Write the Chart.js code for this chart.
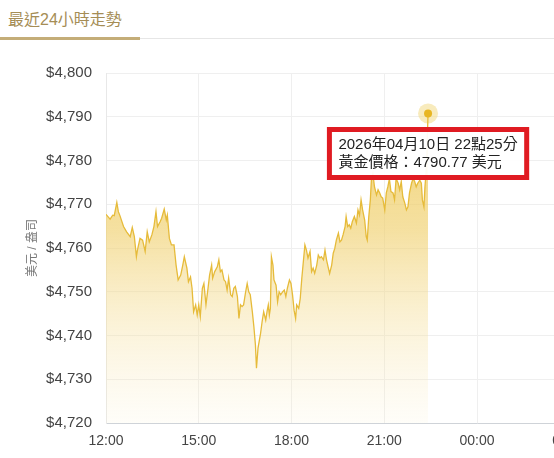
<!DOCTYPE html>
<html>
<head>
<meta charset="utf-8">
<script src="https://cdn.jsdelivr.net/npm/chart.js@4.4.1/dist/chart.umd.min.js"></script>
<style>
    body { margin: 0; background: #fff; overflow: hidden; font-family: "Liberation Sans", "Noto Sans CJK TC", sans-serif; }
    .tab { position: absolute; left: 0; top: 0; width: 554px; height: 38px; border-bottom: 1px solid #e6e6e6; }
    .tab span { position: absolute; left: 8px; top: 6px; font-size: 16px; color: #a58d55; }
    .tab i { position: absolute; left: 0; bottom: -2px; width: 140px; height: 3px; background: #c4ad78; }
    #wrap { position: absolute; left: 0; top: 40px; }
</style>
</head>
<body>
<div class="tab"><span>最近24小時走勢</span><i></i></div>
<div id="wrap"><canvas id="goldChart" width="880" height="418"></canvas></div>

<script>
    // 2026-04-10, 12:00 起的金價 (美元/盎司)
    const dateLabel = '2026年04月10日';
    const times = [
        '12:00','12:08','12:13','12:16','12:21','12:24','12:27','12:34','12:40','12:47',
        '12:51','12:55','12:59','13:01','13:06','13:11','13:16','13:20','13:24','13:29',
        '13:33','13:37','13:40','13:45','13:48','13:53','13:57','13:59','14:03','14:07',
        '14:12','14:16','14:20','14:25','14:29','14:32','14:37','14:40','14:44','14:47',
        '14:50','14:54','14:57','15:00','15:03','15:07','15:10','15:14','15:18','15:21',
        '15:25','15:27','15:31','15:36','15:39','15:42','15:45','15:49','15:52','15:55',
        '15:58','16:02','16:05','16:08','16:11','16:15','16:18','16:21','16:24','16:27',
        '16:31','16:34','16:37','16:40','16:44','16:47','16:50','16:52','16:55','17:00',
        '17:03','17:06','17:10','17:13','17:15','17:17','17:19','17:21','17:24','17:26',
        '17:30','17:33','17:36','17:39','17:43','17:46','17:49','17:52','17:56','17:59',
        '18:02','18:05','18:08','18:10','18:14','18:17','18:20','18:23','18:26','18:29',
        '18:32','18:36','18:39','18:42','18:45','18:49','18:52','18:55','18:58','19:02',
        '19:05','19:08','19:11','19:14','19:18','19:21','19:24','19:27','19:31','19:34',
        '19:37','19:40','19:44','19:46','19:49','19:52','19:55','19:58','20:02','20:06',
        '20:09','20:12','20:15','20:18','20:22','20:25','20:27','20:30','20:33','20:35',
        '20:38','20:41','20:45','20:48','20:51','20:54','20:57','21:01','21:04','21:07',
        '21:10','21:13','21:17','21:20','21:23','21:27','21:30','21:33','21:36','21:40',
        '21:43','21:46','21:49','21:53','21:56','21:59','22:02','22:05','22:09','22:12',
        '22:14','22:17','22:19','22:22','22:25'
    ];
    const prices = [
        4767.7, 4766.6, 4767.5, 4767.4, 4770.4, 4768.3, 4767.4, 4764.9, 4763.7, 4762.6,
        4764.7, 4762.6, 4758.0, 4759.5, 4762.2, 4761.8, 4759.2, 4763.7, 4761.4, 4763.0,
        4764.9, 4768.3, 4764.9, 4766.0, 4766.8, 4768.9, 4766.4, 4767.5, 4762.2, 4760.7,
        4760.7, 4756.1, 4752.7, 4753.8, 4756.1, 4758.0, 4755.4, 4752.3, 4753.4, 4750.8,
        4745.4, 4747.0, 4744.7, 4747.0, 4744.3, 4750.8, 4751.9, 4747.0, 4750.8, 4753.8,
        4756.1, 4753.1, 4754.6, 4755.7, 4757.3, 4754.6, 4755.0, 4752.7, 4752.3, 4750.4,
        4753.1, 4749.3, 4748.9, 4750.8, 4751.2, 4748.9, 4743.9, 4747.0, 4746.6, 4747.0,
        4750.0, 4751.9, 4750.0, 4749.3, 4745.4, 4742.0, 4737.8, 4732.5, 4737.1, 4740.5,
        4743.2, 4745.4, 4743.5, 4745.8, 4747.0, 4744.7, 4746.2, 4758.0, 4756.1, 4752.7,
        4751.5, 4747.7, 4750.0, 4749.3, 4750.0, 4750.4, 4748.9, 4750.8, 4752.7, 4751.9,
        4749.3, 4745.8, 4743.9, 4747.0, 4746.2, 4748.5, 4753.1, 4756.9, 4760.7, 4759.5,
        4757.7, 4759.2, 4754.6, 4755.4, 4754.2, 4756.1, 4758.4, 4757.7, 4758.0, 4757.3,
        4759.5, 4757.3, 4755.7, 4754.2, 4756.1, 4758.8, 4759.9, 4761.8, 4763.4, 4761.4,
        4761.8, 4763.0, 4764.9, 4767.2, 4764.9, 4765.3, 4764.5, 4766.0, 4767.2, 4765.7,
        4768.7, 4767.5, 4771.0, 4768.7, 4766.4, 4762.6, 4761.8, 4767.2, 4771.0, 4775.5,
        4777.0, 4774.0, 4772.1, 4773.3, 4772.6, 4771.7, 4771.4, 4768.7, 4772.6, 4774.0,
        4775.8, 4772.9, 4772.6, 4771.0, 4775.9, 4774.8, 4773.3, 4775.2, 4771.7, 4770.2,
        4768.7, 4769.4, 4772.6, 4774.8, 4775.9, 4775.2, 4774.0, 4774.8, 4775.5, 4774.8,
        4771.0, 4769.4, 4774.0, 4778.6, 4790.77
    ];
    const xTickStep = 180;   // 每 3 小時
    const xMax = 1440;       // 到隔天 12:00
    const yMin = 4720, yMax = 4800, yStep = 10;

    const FONT = '"Liberation Sans", "Noto Sans CJK TC", sans-serif';

    function toMinutes(t) {
        const [h, m] = t.split(':').map(Number);
        return ((h - 12 + 24) % 24) * 60 + m;
    }
    function minutesToLabel(v) {
        const h = (12 + Math.floor(v / 60)) % 24;
        const m = v % 60;
        return String(h).padStart(2, '0') + ':' + String(m).padStart(2, '0');
    }

    const points = times.map((t, i) => ({ x: toMinutes(t), y: prices[i] }));
    const last = points.length - 1;

    const haloPlugin = {
        id: 'halo',
        beforeDatasetsDraw(chart) {
            const el = chart.getDatasetMeta(0).data[last];
            if (!el) return;
            const c = chart.ctx;
            c.save();
            c.beginPath();
            c.arc(el.x, el.y, 10, 0, Math.PI * 2);
            c.fillStyle = 'rgba(243, 218, 135, 0.55)';
            c.fill();
            c.restore();
        }
    };

    const ctx = document.getElementById('goldChart').getContext('2d');
    const chart = new Chart(ctx, {
        type: 'line',
        data: {
            datasets: [{
                data: points,
                borderColor: '#e6bb3a',
                borderWidth: 1.3,
                tension: 0,
                fill: 'start',
                backgroundColor: (c) => {
                    const area = c.chart.chartArea;
                    if (!area) return 'rgba(240,210,120,0.5)';
                    const g = c.chart.ctx.createLinearGradient(0, area.top, 0, area.bottom);
                    g.addColorStop(0, 'rgba(236, 196, 72, 0.85)');
                    g.addColorStop(0.45, 'rgba(240, 208, 110, 0.65)');
                    g.addColorStop(1, 'rgba(250, 238, 200, 0.12)');
                    return g;
                },
                pointRadius: 0,
                pointHoverRadius: 4,
                pointHoverBackgroundColor: '#e8b623',
                pointHoverBorderWidth: 0
            }]
        },
        options: {
            responsive: false,
            animation: false,
            events: [],
            layout: { padding: { top: 33, right: 32, left: 0, bottom: 0 } },
            plugins: {
                legend: { display: false },
                tooltip: {
                    xAlign: 'center',
                    yAlign: 'top',
                    caretSize: 0,
                    caretPadding: 16,
                    backgroundColor: 'rgba(255,255,255,0.94)',
                    borderColor: '#e01b22',
                    borderWidth: 5,
                    cornerRadius: 0,
                    displayColors: false,
                    padding: { x: 9, y: 6 },
                    titleColor: '#222',
                    bodyColor: '#222',
                    titleFont: { family: FONT, size: 15, weight: 'normal' },
                    bodyFont: { family: FONT, size: 15 },
                    titleMarginBottom: 0,
                    callbacks: {
                        title: (items) => {
                            const t = minutesToLabel(items[0].parsed.x).split(':');
                            return dateLabel + ' ' + t[0] + '點' + t[1] + '分';
                        },
                        label: (item) => '黃金價格：' + item.parsed.y.toFixed(2) + ' 美元'
                    }
                }
            },
            scales: {
                x: {
                    type: 'linear',
                    min: 0,
                    max: xMax,
                    afterFit: (s) => { s.height = 35; },
                    ticks: {
                        stepSize: xTickStep,
                        maxRotation: 0,
                        autoSkip: false,
                        padding: 10,
                        color: '#444',
                        font: { family: FONT, size: 14 },
                        callback: (v) => minutesToLabel(v)
                    },
                    grid: { color: '#efefef', drawTicks: false },
                    border: { color: '#cfd3d8' }
                },
                y: {
                    min: yMin,
                    max: yMax,
                    afterFit: (s) => { s.width = 106; },
                    ticks: {
                        stepSize: yStep,
                        padding: 14,
                        color: '#444',
                        font: { family: FONT, size: 15 },
                        callback: (v) => '$' + v.toLocaleString('en-US')
                    },
                    grid: { color: '#efefef', drawTicks: false },
                    border: { color: '#e8e8e8' },
                    title: {
                        display: true,
                        text: '美元 / 盎司',
                        color: '#777',
                        font: { family: FONT, size: 12 },
                        padding: { top: 25, bottom: 0 }
                    }
                }
            }
        },
        plugins: [haloPlugin]
    });

    const active = [{ datasetIndex: 0, index: last }];
    chart.setActiveElements(active);
    chart.tooltip.setActiveElements(active, { x: 0, y: 0 });
    chart.update();
</script>
</body>
</html>
